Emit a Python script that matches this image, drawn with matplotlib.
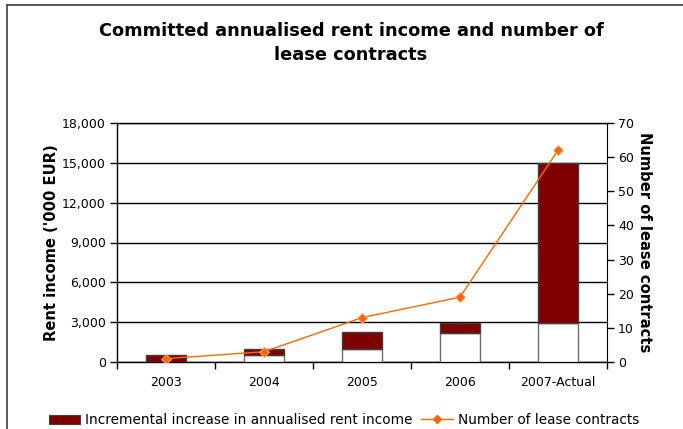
import matplotlib
matplotlib.use("Agg")
import matplotlib.pyplot as plt
from matplotlib.lines import Line2D
from matplotlib.patches import Patch
from matplotlib.ticker import FuncFormatter

categories = ["2003", "2004", "2005", "2006", "2007-Actual"]
base_income = [0, 500, 950, 2200, 2900]
incremental_income = [560, 480, 1290, 740, 12100]
lease_contracts = [1, 3, 13, 19, 62]

W, H = 683, 429
fig = plt.figure(figsize=(W / 100, H / 100), dpi=100)
fig.patch.set_facecolor("white")

ax = fig.add_axes([117 / W, 1 - 362 / H, (607 - 117) / W, (362 - 123) / H])
ax2 = ax.twinx()

x = list(range(len(categories)))
bw = 0.41
ax.bar(x, base_income, width=bw, color="white", edgecolor="#707070", linewidth=1.0, zorder=3)
ax.bar(x, incremental_income, width=bw, bottom=base_income, color="#800000",
       edgecolor="#404040", linewidth=1.0, zorder=3)

ax.set_ylim(0, 18000)
ax.set_yticks(range(0, 18001, 3000))
ax.yaxis.set_major_formatter(FuncFormatter(lambda v, p: f"{int(v):,}"))
ax.set_xlim(-0.5, len(categories) - 0.5)
ax.set_xticks(x)
ax.set_xticklabels(categories)
ax.tick_params(axis="x", length=0, pad=10, labelsize=9)
ax.set_xticks([i - 0.5 for i in range(len(categories) + 1)], minor=True)
ax.tick_params(axis="x", which="minor", length=5, width=1, direction="out")
ax.tick_params(axis="y", length=5, width=1, direction="out", labelsize=9, pad=3)
ax.yaxis.grid(True, color="black", linewidth=1.0, zorder=0)
ax.set_axisbelow(True)
for s in ["left", "bottom", "top", "right"]:
    ax.spines[s].set_color("black")
    ax.spines[s].set_linewidth(1.0)
ax.spines["right"].set_visible(False)
ax.set_ylabel("Rent income ('000 EUR)", fontsize=10.6, fontweight="bold", labelpad=2)

ax2.plot(x, lease_contracts, color="#FF6600", linewidth=1.0, marker="D", markersize=5.5,
         markerfacecolor="#FF6600", markeredgecolor="#FFB080", markeredgewidth=0.6, zorder=5)
ax2.set_ylim(0, 70)
ax2.set_yticks(range(0, 71, 10))
ax2.tick_params(axis="y", length=5, width=1, direction="out", labelsize=9, pad=3)
ax2.spines["right"].set_color("black")
for s in ["left", "top", "bottom"]:
    ax2.spines[s].set_visible(False)
ax2.set_ylabel("Number of lease contracts", fontsize=10.6, fontweight="bold",
               rotation=-90, labelpad=13)

fig.text(351 / W, 1 - 43 / H, "Committed annualised rent income and number of\nlease contracts",
         ha="center", va="center", fontsize=12.8, fontweight="bold", linespacing=1.5)

handles = [Patch(facecolor="#800000", edgecolor="#404040", linewidth=0.8),
           Line2D([0], [0], color="#FF6600", linewidth=1.0, marker="D", markersize=4,
                  markerfacecolor="#FF6600", markeredgecolor="#FF6600")]
fig.legend(handles, ["Incremental increase in annualised rent income", "Number of lease contracts"],
           loc="center", bbox_to_anchor=(344 / W, 1 - 420 / H), ncol=2, frameon=False,
           fontsize=9.8, handlelength=2.3, handleheight=0.6, handletextpad=0.35,
           columnspacing=0.65)

# outer border (top and left visible)
fig.add_artist(Line2D([6.5 / W, 6.5 / W], [0, 1 - 4.5 / H], transform=fig.transFigure,
                      color="#404040", linewidth=1.2))
fig.add_artist(Line2D([6.5 / W, 1], [1 - 4.5 / H, 1 - 4.5 / H], transform=fig.transFigure,
                      color="#404040", linewidth=1.2))

fig.savefig("out.png", dpi=100)
